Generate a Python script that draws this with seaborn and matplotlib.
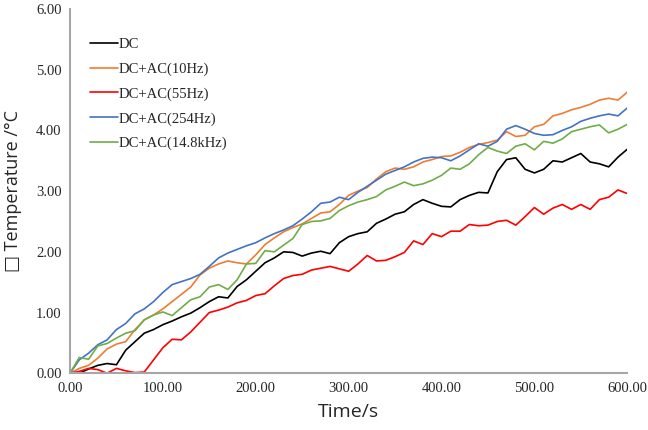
import matplotlib
matplotlib.use("Agg")
import matplotlib.pyplot as plt
import pandas as pd
import seaborn as sns
import numpy as np

# time axis, seconds
time_s = list(range(0, 601, 10))

dc = [0.00, 0.00, 0.07, 0.13, 0.16, 0.14, 0.38, 0.52, 0.66, 0.72,
      0.80, 0.86, 0.93, 0.99, 1.08, 1.18, 1.26, 1.24, 1.43, 1.54,
      1.68, 1.82, 1.90, 2.00, 1.99, 1.93, 1.98, 2.01, 1.97, 2.15,
      2.25, 2.30, 2.33, 2.47, 2.54, 2.62, 2.66, 2.78, 2.86, 2.80,
      2.75, 2.74, 2.86, 2.93, 2.98, 2.97, 3.32, 3.52, 3.55, 3.36,
      3.30, 3.36, 3.50, 3.48, 3.55, 3.62, 3.48, 3.45, 3.40, 3.56, 3.69]
ac_10hz = [0.00, 0.08, 0.13, 0.25, 0.40, 0.48, 0.52, 0.72, 0.88, 0.96,
           1.06, 1.18, 1.30, 1.42, 1.62, 1.73, 1.80, 1.85, 1.82, 1.80,
           1.95, 2.12, 2.23, 2.33, 2.40, 2.46, 2.55, 2.64, 2.66, 2.78,
           2.93, 3.00, 3.06, 3.20, 3.32, 3.38, 3.36, 3.40, 3.48, 3.52,
           3.57, 3.58, 3.64, 3.72, 3.77, 3.80, 3.84, 3.98, 3.90, 3.92,
           4.06, 4.10, 4.24, 4.28, 4.34, 4.38, 4.43, 4.50, 4.53, 4.50, 4.63]
ac_55hz = [0.00, 0.03, 0.08, 0.06, 0.00, 0.08, 0.04, 0.01, 0.02, 0.22,
           0.42, 0.56, 0.55, 0.68, 0.84, 1.00, 1.04, 1.09, 1.16, 1.20,
           1.28, 1.31, 1.44, 1.56, 1.61, 1.63, 1.70, 1.73, 1.76, 1.72,
           1.68, 1.80, 1.94, 1.85, 1.86, 1.92, 1.99, 2.18, 2.12, 2.30,
           2.25, 2.34, 2.34, 2.45, 2.43, 2.44, 2.50, 2.52, 2.44, 2.58,
           2.73, 2.62, 2.72, 2.78, 2.70, 2.78, 2.70, 2.86, 2.90, 3.02, 2.96]
ac_254hz = [0.00, 0.22, 0.33, 0.47, 0.55, 0.72, 0.82, 0.98, 1.06, 1.18,
            1.33, 1.46, 1.51, 1.56, 1.63, 1.76, 1.90, 1.98, 2.04, 2.10,
            2.15, 2.23, 2.30, 2.36, 2.43, 2.54, 2.66, 2.80, 2.82, 2.90,
            2.86, 2.98, 3.08, 3.18, 3.28, 3.34, 3.40, 3.48, 3.54, 3.56,
            3.55, 3.50, 3.58, 3.68, 3.78, 3.74, 3.82, 4.02, 4.08, 4.02,
            3.95, 3.92, 3.93, 4.00, 4.06, 4.15, 4.20, 4.24, 4.27, 4.24, 4.37]
ac_148khz = [0.00, 0.26, 0.23, 0.45, 0.49, 0.58, 0.66, 0.70, 0.88, 0.96,
             1.01, 0.95, 1.08, 1.21, 1.26, 1.42, 1.46, 1.38, 1.54, 1.80,
             1.81, 2.02, 2.00, 2.11, 2.22, 2.45, 2.50, 2.51, 2.55, 2.68,
             2.76, 2.82, 2.86, 2.91, 3.02, 3.08, 3.15, 3.09, 3.12, 3.18,
             3.26, 3.38, 3.36, 3.45, 3.60, 3.72, 3.66, 3.62, 3.74, 3.78,
             3.68, 3.82, 3.79, 3.86, 3.98, 4.02, 4.06, 4.09, 3.96, 4.02, 4.10]

labels = ["DC", "DC+AC(10Hz)", "DC+AC(55Hz)", "DC+AC(254Hz)", "DC+AC(14.8kHz)"]
colors = ["#000000", "#ED7D31", "#FF0000", "#4472C4", "#70AD47"]
series = [dc, ac_10hz, ac_55hz, ac_254hz, ac_148khz]

frames = []
for lab, vals in zip(labels, series):
    frames.append(pd.DataFrame({"Time": time_s, "Temp": vals, "Case": lab}))
df = pd.concat(frames, ignore_index=True)

sns.set_style("white")
plt.rcParams['font.family'] = ['Liberation Serif', 'DejaVu Serif']

fig = plt.figure(figsize=(6.48, 4.30), dpi=100)
ax = fig.add_axes([0.108, 0.132, 0.86, 0.847])

sns.lineplot(data=df, x="Time", y="Temp", hue="Case", hue_order=labels,
             palette=colors, linewidth=1.2, ax=ax)

ax.set_xlim(0, 600)
ax.set_ylim(0, 6)
ax.set_xticks(np.arange(0, 601, 100))
ax.set_yticks(np.arange(0, 7, 1))
ax.set_xticklabels(["%.2f" % v for v in np.arange(0, 601, 100)])
ax.set_yticklabels(["%.2f" % v for v in np.arange(0, 7, 1)])
ax.tick_params(axis="both", length=0, labelsize=10.5, pad=6)

for side in ["top", "right"]:
    ax.spines[side].set_visible(False)
for side in ["left", "bottom"]:
    ax.spines[side].set_color("#a6a6a6")
    ax.spines[side].set_linewidth(1.5)

ax.set_xlabel("Time/s", family=["Open Sans", "DejaVu Sans"], fontsize=14, labelpad=6)
ax.set_ylabel("\u25a1 Temperature /\u00b0C", family=["Open Sans", "DejaVu Sans"],
              fontsize=13, labelpad=10)

ax.legend(loc="upper left", bbox_to_anchor=(0.013, 0.957), frameon=False,
          fontsize=10.5, handlelength=1.9, handletextpad=0.05, labelspacing=0.78)

fig.savefig("out.png", dpi=100)
